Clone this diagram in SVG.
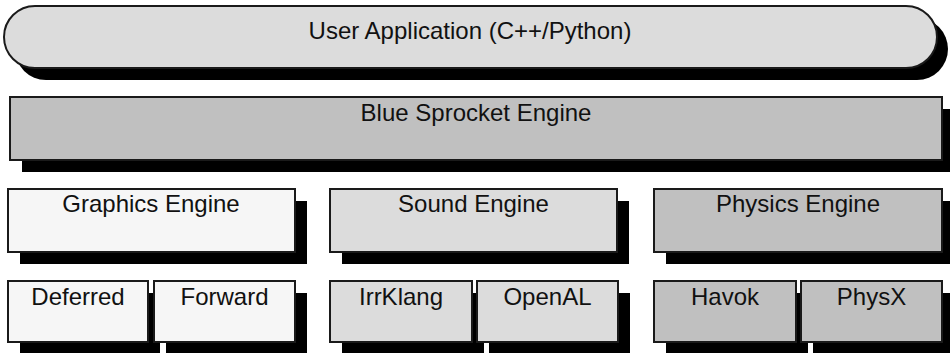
<svg xmlns="http://www.w3.org/2000/svg" width="950" height="353" viewBox="0 0 950 353">
<style>
.sh{fill:#000}
.bx{stroke:#1a1a1a;stroke-width:2}
.l1{fill:#f6f6f6}
.l2{fill:#dcdcdc}
.l3{fill:#c0c0c0}
text{font-family:"Liberation Sans",Arial,sans-serif;font-size:24px;fill:#111;text-anchor:middle}
</style>
<rect width="950" height="353" fill="#fff"/>
<g id="user-app">
<rect class="sh" x="15" y="18" width="933" height="62" rx="31" ry="31"/>
<rect class="bx l2" x="4" y="6" width="933" height="62" rx="31" ry="31"/>
<text x="470" y="39">User Application (C++/Python)</text>
</g>
<g id="blue-sprocket">
<rect class="sh" x="22" y="109" width="932" height="63"/>
<rect class="bx l3" x="10" y="97" width="932" height="63"/>
<text x="476" y="121">Blue Sprocket Engine</text>
</g>
<g id="graphics-engine">
<rect class="sh" x="20" y="201" width="287" height="63"/>
<rect class="bx l1" x="8" y="189" width="287" height="63"/>
<text x="151" y="212">Graphics Engine</text>
</g>
<g id="sound-engine">
<rect class="sh" x="342" y="201" width="287" height="63"/>
<rect class="bx l2" x="330" y="189" width="287" height="63"/>
<text x="473.5" y="212">Sound Engine</text>
</g>
<g id="physics-engine">
<rect class="sh" x="666" y="201" width="288" height="63"/>
<rect class="bx l3" x="654" y="189" width="288" height="63"/>
<text x="798" y="212">Physics Engine</text>
</g>
<g id="deferred">
<rect class="sh" x="20" y="293" width="140" height="61"/>
<rect class="bx l1" x="8" y="281" width="140" height="61"/>
<text x="78" y="305">Deferred</text>
</g>
<g id="forward">
<rect class="sh" x="166" y="293" width="141" height="61"/>
<rect class="bx l1" x="154" y="281" width="141" height="61"/>
<text x="224.5" y="305">Forward</text>
</g>
<g id="irrklang">
<rect class="sh" x="342" y="293" width="142" height="61"/>
<rect class="bx l2" x="330" y="281" width="142" height="61"/>
<text x="401" y="305">IrrKlang</text>
</g>
<g id="openal">
<rect class="sh" x="489" y="293" width="141" height="61"/>
<rect class="bx l2" x="477" y="281" width="141" height="61"/>
<text x="547.5" y="305">OpenAL</text>
</g>
<g id="havok">
<rect class="sh" x="666" y="293" width="142" height="61"/>
<rect class="bx l3" x="654" y="281" width="142" height="61"/>
<text x="725" y="305">Havok</text>
</g>
<g id="physx">
<rect class="sh" x="813" y="293" width="141" height="61"/>
<rect class="bx l3" x="801" y="281" width="141" height="61"/>
<text x="871.5" y="305">PhysX</text>
</g>
<g id="connectors"></g>
</svg>
